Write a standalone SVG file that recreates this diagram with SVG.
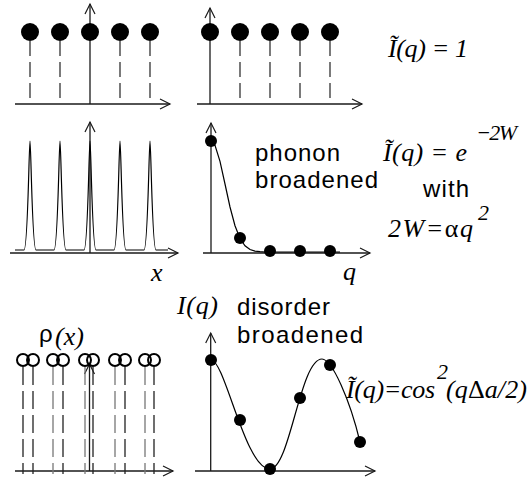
<svg xmlns="http://www.w3.org/2000/svg" width="528" height="477" viewBox="0 0 528 477">
<style>
.ax{stroke:#1a1a1a;stroke-width:1.3;fill:none;marker-end:url(#arr)}
.dash{stroke:#333;stroke-width:1.3;stroke-dasharray:15 6;fill:none}
.dashg{stroke:#777;stroke-width:1.3;stroke-dasharray:18 6;fill:none}
.dashb{stroke:#222;stroke-width:1.3;stroke-dasharray:18 6;fill:none}
.dot{fill:#000}
.ring{fill:none;stroke:#000;stroke-width:2}
.curve{fill:none;stroke:#000;stroke-width:1.2}
.ser{font-family:"Liberation Serif","Times New Roman",serif;font-style:italic;font-size:26px;fill:#000}
.sup{font-family:"Liberation Serif","Times New Roman",serif;font-style:italic;font-size:22px;fill:#000}
.sans{font-family:"Liberation Sans",Arial,sans-serif;font-size:24px;fill:#000}
.up{font-style:normal}
</style>
<defs>
<marker id="arr" markerUnits="userSpaceOnUse" markerWidth="14" markerHeight="14" viewBox="-1 -7 14 14" refX="10" refY="0" orient="auto">
<path d="M0,-5 L10,0 L0,5" fill="none" stroke="#1a1a1a" stroke-width="1.2"/>
</marker>
</defs>

<g id="connectors">
<line class="ax" x1="15" y1="104" x2="170" y2="104"/>
<line class="ax" x1="90" y1="104" x2="90" y2="4"/>
<line class="ax" x1="197" y1="104" x2="362" y2="104"/>
<line class="ax" x1="210" y1="104" x2="210" y2="8"/>
<line class="ax" x1="10" y1="253" x2="178" y2="253"/>
<line class="ax" x1="90" y1="253" x2="90" y2="122"/>
<line class="ax" x1="203" y1="253" x2="370" y2="253"/>
<line class="ax" x1="211" y1="253" x2="211" y2="123"/>
<line class="ax" x1="15" y1="471" x2="173" y2="471"/>
<line class="ax" x1="89.5" y1="471" x2="89.5" y2="364"/>
<line class="ax" x1="195" y1="471" x2="375" y2="471"/>
<line class="ax" x1="210.7" y1="471" x2="210.7" y2="333"/>
</g>

<g id="panel-lattice">
<line class="dash" x1="30" y1="41" x2="30" y2="102"/>
<line class="dash" x1="60" y1="41" x2="60" y2="102"/>
<line class="dash" x1="120" y1="41" x2="120" y2="102"/>
<line class="dash" x1="150" y1="41" x2="150" y2="102"/>
<circle class="dot" cx="30" cy="32" r="9"/>
<circle class="dot" cx="60" cy="32" r="9"/>
<circle class="dot" cx="90" cy="32" r="9"/>
<circle class="dot" cx="120" cy="32" r="9"/>
<circle class="dot" cx="150" cy="32" r="9"/>
</g>

<g id="panel-reciprocal">
<line class="dash" x1="240" y1="41" x2="240" y2="102"/>
<line class="dash" x1="270" y1="41" x2="270" y2="102"/>
<line class="dash" x1="300" y1="41" x2="300" y2="102"/>
<line class="dash" x1="330" y1="41" x2="330" y2="102"/>
<circle class="dot" cx="210" cy="32" r="9"/>
<circle class="dot" cx="240" cy="32" r="9"/>
<circle class="dot" cx="270" cy="32" r="9"/>
<circle class="dot" cx="300" cy="32" r="9"/>
<circle class="dot" cx="330" cy="32" r="9"/>
</g>

<g id="label-I1">
<text class="ser" x="388" y="57" textLength="80">Ĩ(q) = 1</text>
</g>

<g id="panel-peaks">
<path class="curve" d="M15,250 H24 C28,250 29,141 30,141 C31,141 32,250 36,250 H54 C58,250 59,141 60,141 C61,141 62,250 66,250 H84 C88,250 89,141 90,141 C91,141 92,250 96,250 H114 C118,250 119,141 120,141 C121,141 122,250 126,250 H144 C148,250 149,141 150,141 C151,141 152,250 156,250 H168"/>
<text class="ser" x="151" y="281">x</text>
</g>

<g id="panel-phonon">
<polyline class="curve" points="211,141 215,145.3 220,161.3 225,184 230,207 235,225.7 240,238.5 245,245.8 250,249.5 255,251.1 260,251.7 265,252 340,252"/>
<circle class="dot" cx="211" cy="141" r="6"/>
<circle class="dot" cx="240" cy="238" r="6"/>
<circle class="dot" cx="270" cy="251" r="6"/>
<circle class="dot" cx="300" cy="251" r="6"/>
<circle class="dot" cx="330" cy="251" r="6"/>
<text class="sans" x="255" y="161" textLength="85">phonon</text>
<text class="sans" x="255" y="188" textLength="123">broadened</text>
<text class="ser" x="343" y="280">q</text>
</g>

<g id="label-I2">
<text class="ser" x="383" y="161" textLength="84">Ĩ(q) = e</text>
<text class="sup" x="476" y="140" textLength="41">−2W</text>
<text class="sans" x="423" y="197" textLength="46">with</text>
<text class="ser" x="388" y="237" textLength="85">2W=<tspan class="up">α</tspan>q</text>
<text class="sup" x="478" y="220">2</text>
</g>

<g id="panel-disorder-lattice">
<line class="dashb" x1="23" y1="367" x2="23" y2="474"/>
<line class="dashb" x1="33" y1="367" x2="33" y2="474"/>
<line class="dashg" x1="53" y1="367" x2="53" y2="474"/>
<line class="dashb" x1="63" y1="367" x2="63" y2="474"/>
<line class="dashg" x1="85" y1="367" x2="85" y2="474"/>
<line class="dashb" x1="93" y1="367" x2="93" y2="474"/>
<line class="dashg" x1="115" y1="367" x2="115" y2="474"/>
<line class="dashb" x1="125" y1="367" x2="125" y2="474"/>
<line class="dashg" x1="145" y1="367" x2="145" y2="474"/>
<line class="dashb" x1="154" y1="367" x2="154" y2="474"/>
<circle class="ring" cx="23" cy="360" r="6"/>
<circle class="ring" cx="33" cy="360" r="6"/>
<circle class="ring" cx="53" cy="360" r="6"/>
<circle class="ring" cx="63" cy="360" r="6"/>
<circle class="ring" cx="85" cy="360" r="6"/>
<circle class="ring" cx="93" cy="360" r="6"/>
<circle class="ring" cx="115" cy="360" r="6"/>
<circle class="ring" cx="125" cy="360" r="6"/>
<circle class="ring" cx="145" cy="360" r="6"/>
<circle class="ring" cx="154" cy="360" r="6"/>
<text class="sans" x="39" y="342" font-size="26">ρ</text>
<text class="ser" x="55" y="345" textLength="29" font-size="24">(x)</text>
</g>

<g id="panel-disorder">
<path class="curve" d="M211,360 C225,360 245,469 270,469 C290,469 300,359 322,359 C332,359 350,400 360,442"/>
<circle class="dot" cx="211" cy="360" r="6"/>
<circle class="dot" cx="240" cy="420" r="6"/>
<circle class="dot" cx="270" cy="469" r="6"/>
<circle class="dot" cx="300" cy="398" r="6"/>
<circle class="dot" cx="330" cy="365" r="6"/>
<circle class="dot" cx="360" cy="442" r="6"/>
<text class="ser" x="177" y="314" textLength="41">I(q)</text>
<text class="sans" x="237" y="315" textLength="93">disorder</text>
<text class="sans" x="237" y="343" textLength="126">broadened</text>
</g>

<g id="label-I3">
<text class="ser" x="346" y="398" textLength="89">Ĩ(q)=cos</text>
<text class="sup" x="437" y="379">2</text>
<text class="ser" x="446" y="398" textLength="81">(q<tspan class="up">Δ</tspan>a/2)</text>
</g>
</svg>
